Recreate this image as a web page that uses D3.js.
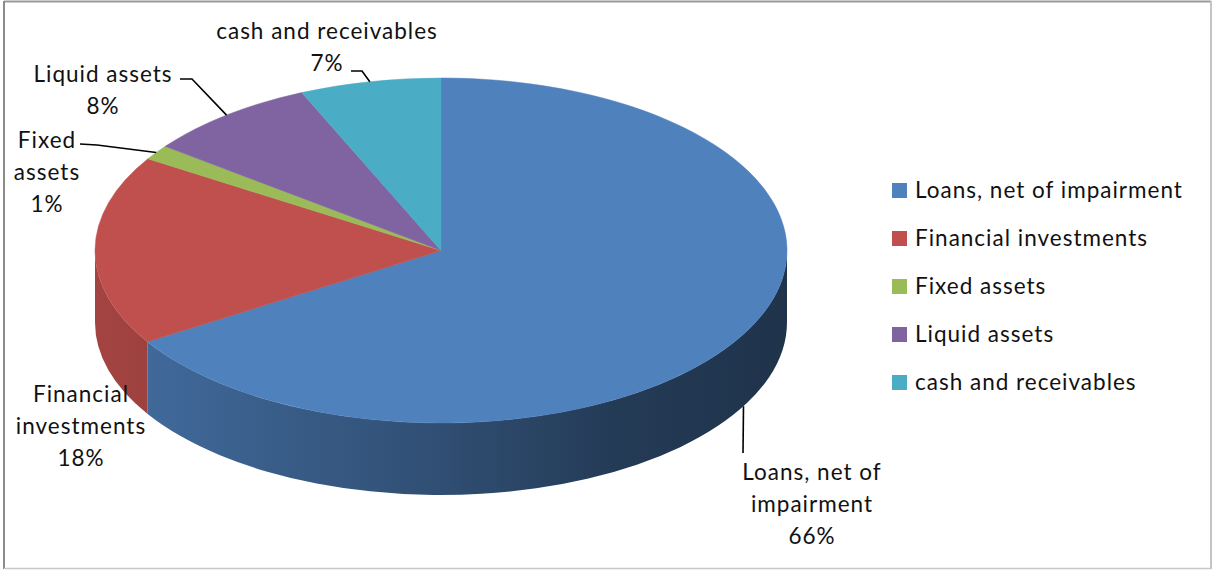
<!DOCTYPE html>
<html>
<head>
<meta charset="utf-8">
<script src="https://cdn.jsdelivr.net/npm/d3@7"></script>
<style>
  html, body { margin: 0; padding: 0; background: #fff; }
  svg { display: block; }
  text { font-family: Lato, "Open Sans", sans-serif; fill: #111; letter-spacing: 1px; }
</style>
</head>
<body>
<svg id="chart" width="1213" height="571"></svg>
<script>
// data
var categories = ["Loans, net of impairment", "Financial investments", "Fixed assets", "Liquid assets", "cash and receivables"];
var values = [66.2, 17.8, 1.4, 8.1, 6.6];
var colors = ["#4F81BD", "#C0504D", "#9BBB59", "#8064A2", "#4BACC6"];
// how the slice labels are broken into lines
var labelLines = [
  ["Loans, net of", "impairment"],
  ["Financial", "investments"],
  ["Fixed", "assets"],
  ["Liquid assets"],
  ["cash and receivables"]
];

// layout
var cx = 441, cy = 250.5, rx = 346, ry = 172.5, depth = 72;
var fontSize = 22.5, lineH = 32;
// label anchor (center x, first baseline) and leader elbow, per slice
var labelPos = [
  { x: 812, y: 480, leader: "loans", elbow: [743, 453] },
  { x: 81, y: 402, leader: null },
  { x: 47, y: 148, leader: "side", start: [80, 144], elbow: [97, 145] },
  { x: 103, y: 82, leader: "side", start: [180, 79], elbow: [192, 79] },
  { x: 327, y: 39, leader: "side", start: [351, 71], elbow: [362, 71] }
];

var svg = d3.select("#chart");
var total = d3.sum(values);

// frame
svg.append("line").attr("x1", 4).attr("y1", 1.5).attr("x2", 1211).attr("y2", 1.5)
  .attr("stroke", "#9a9a9a").attr("stroke-width", 2);
svg.append("line").attr("x1", 4).attr("y1", 1).attr("x2", 4).attr("y2", 569)
  .attr("stroke", "#8c8c8c").attr("stroke-width", 2);
svg.append("line").attr("x1", 1211).attr("y1", 1).attr("x2", 1211).attr("y2", 569)
  .attr("stroke", "#c4c4c4").attr("stroke-width", 2);
svg.append("line").attr("x1", 4).attr("y1", 568.5).attr("x2", 1211).attr("y2", 568.5)
  .attr("stroke", "#c8c8c8").attr("stroke-width", 1.5);

var pie = d3.pie().sort(null).value(d => d);
var arcs = pie(values);

function pt(a, dy) {
  return [cx + rx * Math.sin(a), cy - ry * Math.cos(a) + (dy || 0)];
}

// side shading, lighter on the left, dark on the right
var defs = svg.append("defs");
colors.forEach(function(c, i) {
  var g = defs.append("linearGradient")
    .attr("id", "side" + i)
    .attr("gradientUnits", "userSpaceOnUse")
    .attr("x1", cx - rx).attr("x2", cx + rx).attr("y1", 0).attr("y2", 0);
  [[0, 0.45], [0.5, 1.4], [0.75, 2.2], [1, 2.6]].forEach(function(s) {
    g.append("stop").attr("offset", s[0]).attr("stop-color", d3.color(c).darker(s[1]));
  });
});

// front walls (only the part between 3 and 9 o'clock is seen)
var sides = svg.append("g");
arcs.forEach(function(d, i) {
  var s0 = Math.max(d.startAngle, Math.PI / 2);
  var s1 = Math.min(d.endAngle, 3 * Math.PI / 2);
  if (s1 <= s0) return;
  var a = pt(s0), b = pt(s1), b2 = pt(s1, depth), a2 = pt(s0, depth);
  var p = "M" + a + "A" + rx + "," + ry + " 0 0 1 " + b +
          "L" + b2 + "A" + rx + "," + ry + " 0 0 0 " + a2 + "Z";
  sides.append("path").attr("d", p).attr("fill", "url(#side" + i + ")");
});

// top face
var topFace = svg.append("g");
arcs.forEach(function(d, i) {
  var a = pt(d.startAngle), b = pt(d.endAngle);
  var large = (d.endAngle - d.startAngle) > Math.PI ? 1 : 0;
  var p = "M" + cx + "," + cy + "L" + a + "A" + rx + "," + ry + " 0 " + large + " 1 " + b + "Z";
  topFace.append("path").attr("d", p).attr("fill", colors[i])
    .attr("stroke", colors[i]).attr("stroke-width", 0.5);
});

// leaders
var leaders = svg.append("g").attr("fill", "none").attr("stroke", "#000").attr("stroke-width", 1.6);
arcs.forEach(function(d, i) {
  var lp = labelPos[i];
  var mid = (d.startAngle + d.endAngle) / 2;
  if (lp.leader === "loans") {
    var e = pt(mid, depth);
    leaders.append("polyline").attr("points", [e, lp.elbow].join(" "));
  } else if (lp.leader === "side") {
    var e2 = pt(mid);
    leaders.append("polyline").attr("points", [lp.start, lp.elbow, e2].join(" "));
  }
});

// slice labels
var fmt = d3.format(".0%");
arcs.forEach(function(d, i) {
  var lp = labelPos[i];
  var lines = labelLines[i].concat([fmt(values[i] / total)]);
  var t = svg.append("text")
    .attr("text-anchor", "middle")
    .style("font-size", fontSize + "px");
  lines.forEach(function(l, k) {
    t.append("tspan").attr("x", lp.x).attr("y", lp.y + k * lineH).text(l);
  });
});

// legend
var legend = svg.append("g").attr("transform", "translate(892,183)");
categories.forEach(function(c, i) {
  var row = legend.append("g").attr("transform", "translate(0," + (i * 48) + ")");
  row.append("rect").attr("width", 15).attr("height", 15).attr("fill", colors[i]);
  row.append("text").attr("x", 23).attr("y", 14.5)
    .style("font-size", fontSize + "px").text(c);
});
</script>
</body>
</html>
